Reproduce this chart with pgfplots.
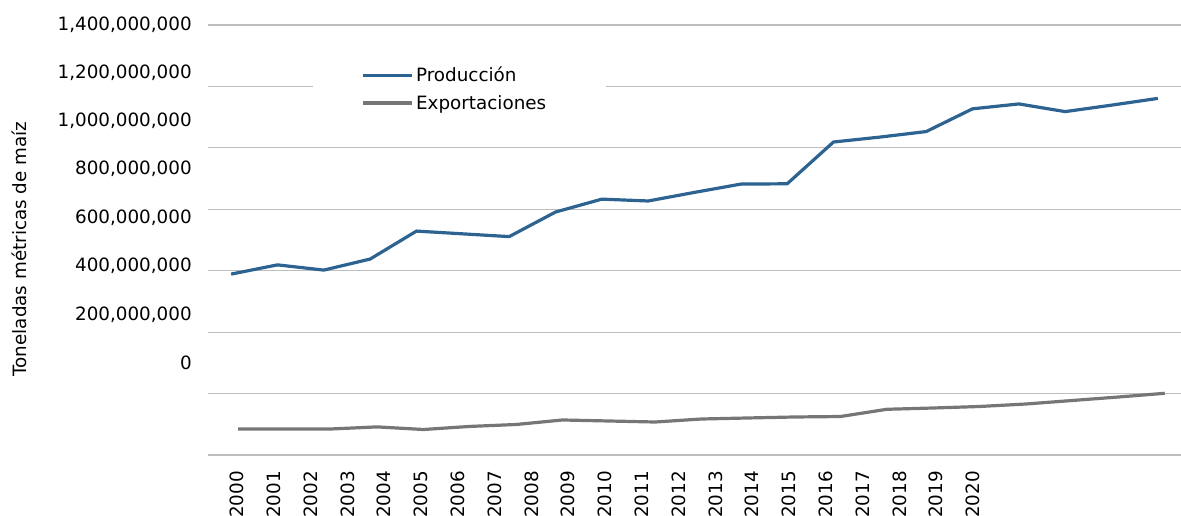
\documentclass[border=0pt]{standalone}
\usepackage{pgfplots}
\pgfplotsset{compat=1.18}
\usepackage{fontspec}
\setmainfont{DejaVu Sans}
\definecolor{prodblue}{RGB}{44,99,145}
\definecolor{expgray}{RGB}{118,118,121}
\definecolor{gridgray}{RGB}{190,190,190}
\begin{document}
\begin{tikzpicture}[font=\fontsize{13.75}{16.5}\selectfont]
\begin{axis}[
  name=ax,
  at={(0,0)}, anchor=south west,
  scale only axis,
  width=729.75pt, height=322.5pt,
  xmin=-0.5, xmax=20.5,
  ymin=0, ymax=1400,
  axis line style={draw=none},
  tick style={draw=none},
  major tick length=0pt,
  clip=false,
  ytick={0,200,400,600,800,1000,1200,1400},
  yticklabels={},
  ymajorgrids,
  grid style={color=gridgray, line width=0.9pt},
  extra y ticks={300.5,458.1,615.7,773.3,930.9,1088.5,1246.1,1399.9},
  extra y tick labels={0,{200,000,000},{400,000,000},{600,000,000},{800,000,000},{1,000,000,000},{1,200,000,000},{1,400,000,000}},
  extra y tick style={grid=none, yticklabel style={anchor=east, inner sep=0pt, xshift=-12pt}},
  xtick={0.126,0.920,1.715,2.509,3.303,4.098,4.892,5.686,6.480,7.275,8.069,8.863,9.658,10.452,11.246,12.041,12.835,13.629,14.423,15.218,16.012},
  xticklabels={2000,2001,2002,2003,2004,2005,2006,2007,2008,2009,2010,2011,2012,2013,2014,2015,2016,2017,2018,2019,2020},
  xticklabel style={yshift=-12pt, rotate=90, anchor=east, inner sep=0pt},
  ylabel={Toneladas métricas de maíz},
  ylabel style={at={(rel axis cs:-0.194,0.479)}, anchor=center, rotate=0},
  legend cell align=left,
  legend style={at={(rel axis cs:0.1079,0.851)}, anchor=west, fill=white, draw=none,
    inner xsep=36pt, inner ysep=4pt, row sep=4.5pt,
    font=\fontsize{13.75}{16.5}\selectfont},
  legend image code/.code={\draw[#1] (0pt,0pt) -- (36.75pt,0pt);},
]
\addplot[prodblue, line width=2.4pt] coordinates {
(0,589) (1,619) (2,602) (3,638) (4,729) (5,720) (6,711) (7,791) (8,833) (9,827)
(10,855) (11,882) (12,883) (13,1019) (14,1035) (15,1053) (16,1127) (17,1143)
(18,1118) (19,1139) (20,1161)};
\addlegendentry{Producción}
\addplot[expgray, line width=2.4pt] coordinates {
(0.15,84.7) (1.15,84.7) (2.15,84.7) (3.15,91.5) (4.15,83) (5.15,93) (6.15,99.3)
(7.15,114) (8.15,110.7) (9.15,107.4) (10.15,117.2) (11.15,120.5) (12.15,123.7)
(13.15,125.3) (14.15,148.8) (15.15,153) (16.15,157.9) (17.15,166) (18.15,177.4)
(19.15,188.8) (20.15,200.9)};
\addlegendentry{Exportaciones\hspace*{6.75pt}}
\end{axis}
\pgfresetboundingbox
\path (-156pt,-45.75pt) rectangle (729.75pt,341.25pt);
\end{tikzpicture}
\end{document}
